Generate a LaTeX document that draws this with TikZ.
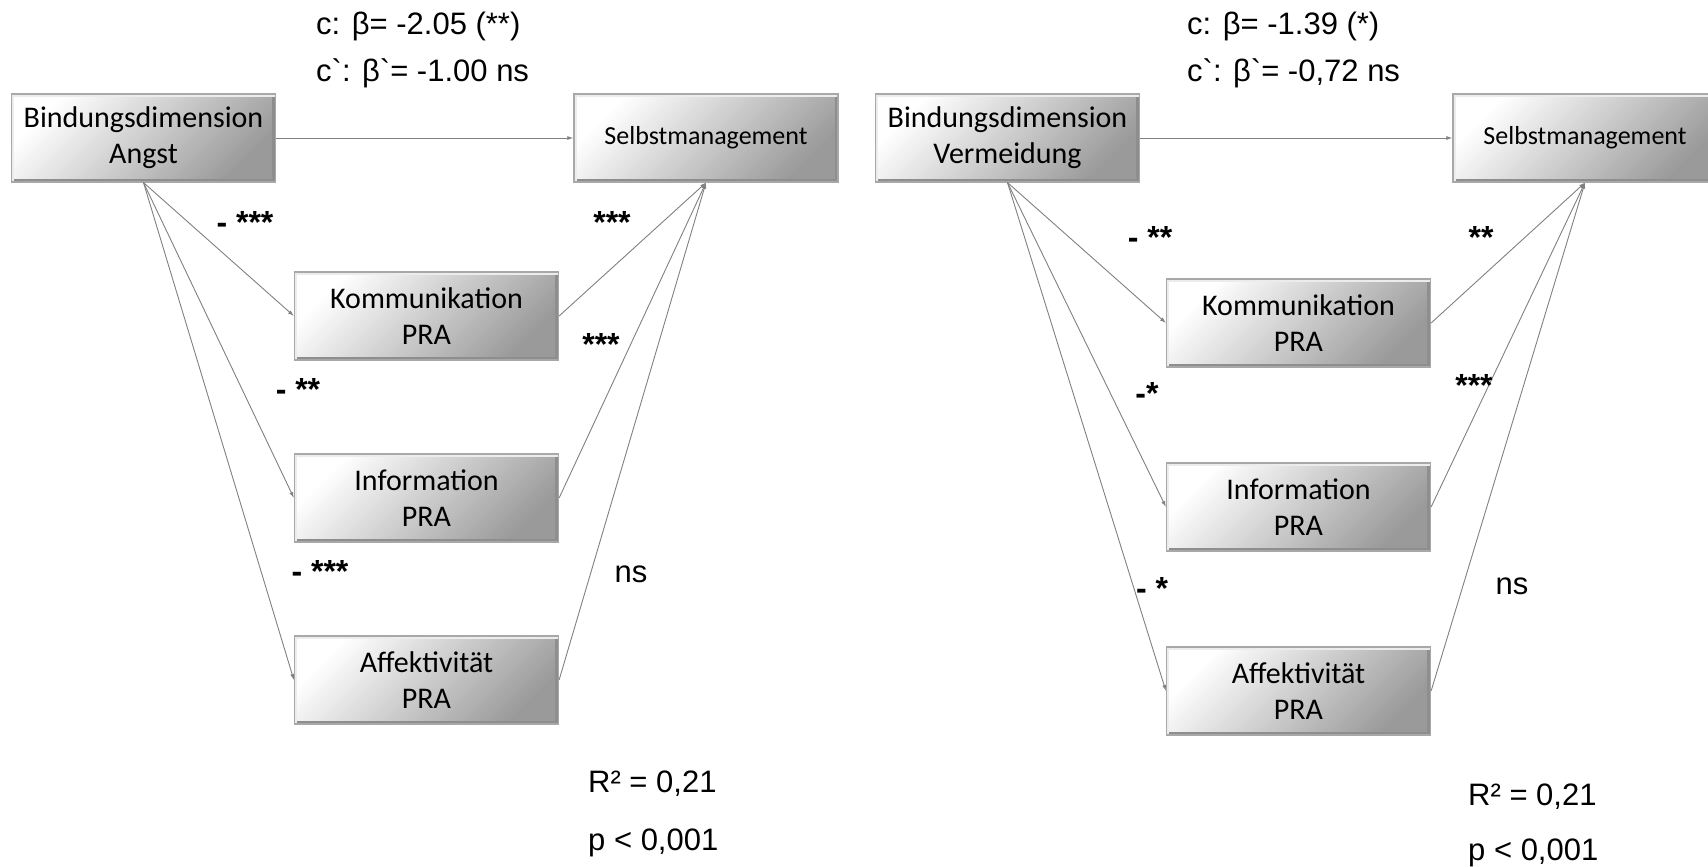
\documentclass[tikz,border=0pt]{standalone}
\usepackage{fontspec}
\usepackage{tikz}
\usetikzlibrary{positioning,arrows.meta}
\newfontfamily\boxfont{Carlito}
\newfontfamily\statfont{Liberation Sans}
\definecolor{linegray}{HTML}{808080}
\definecolor{boxmid}{HTML}{E2E2E2}
\definecolor{boxdark}{HTML}{9A9A9A}
\definecolor{boxedge}{HTML}{A8A8A8}
\definecolor{bevel}{HTML}{8E8E8E}

\begin{document}
\begin{tikzpicture}[x=1pt,y=-1pt,every node/.style={inner sep=0pt}]
   \tikzstyle{box}=[rectangle, draw=boxedge, line width=1.2pt, top color=white, middle color=boxmid, bottom color=boxdark, shading angle=45, minimum width=264pt, minimum height=88pt, align=center, font=\boxfont\fontsize{30}{36}\selectfont,
      path picture={\draw[bevel, line width=7pt] (path picture bounding box.south west) -- (path picture bounding box.south east) -- (path picture bounding box.north east);
                    \draw[white!85!gray, line width=5pt] (path picture bounding box.south west) -- (path picture bounding box.north west) -- (path picture bounding box.north east);}];
   \tikzstyle{smbox}=[box, font=\boxfont\fontsize{26}{31}\selectfont];
   \tikzstyle{st}=[anchor=west, font=\statfont\fontsize{31}{37}\selectfont];
   \tikzstyle{sig}=[font=\statfont\bfseries\fontsize{32}{38}\selectfont];
   \tikzstyle{l}=[draw=linegray, line width=0.9pt, -{Latex[length=6pt,width=4pt]}];
   \useasboundingbox (0,0) rectangle (1708,867);
   % Angst
   \node[box]   (ang) at (143.5,138) {Bindungsdimension\\Angst};
   \node[smbox] (sm)  at (706,138)   {Selbstmanagement};
   \node[box]   (kom) at (426.5,316) {Kommunikation\\PRA};
   \node[box]   (inf) at (426.5,498) {Information\\PRA};
   \node[box]   (aff) at (426.5,680) {Affektivität\\PRA};
   \draw[l] (ang) -- (sm);
   \draw[l] (ang.south) -- (kom.west);
   \draw[l] (ang.south) -- (inf.west);
   \draw[l] (ang.south) -- (aff.west);
   \draw[l] (kom.east) -- (sm.south);
   \draw[l] (inf.east) -- (sm.south);
   \draw[l] (aff.east) -- (sm.south);
   \node[st]  (c)   at (316,26)  {c: β= -2.05 (**)};
   \node[st]  (cs)  at (316,73)  {c`: β`= -1.00 ns};
   \node[sig] (a1)  at (245,222) {- ***};
   \node[sig] (b1)  at (612,222) {***};
   \node[sig] (a2)  at (298,389) {- **};
   \node[sig] (b2)  at (601,344) {***};
   \node[sig] (a3)  at (320,571) {- ***};
   \node[st,anchor=center] (b3) at (631,574) {ns};
   \node[st]  (r)   at (588,784) {R² = 0,21};
   \node[st]  (p)   at (588,843) {p < 0,001};
   % Vermeidung
   \node[box]   (verm) at (1007.5,138) {Bindungsdimension\\Vermeidung};
   \node[smbox] (sm2)  at (1585,138)   {Selbstmanagement};
   \node[box]   (kom2) at (1298.5,323) {Kommunikation\\PRA};
   \node[box]   (inf2) at (1298.5,507) {Information\\PRA};
   \node[box]   (aff2) at (1298.5,691) {Affektivität\\PRA};
   \draw[l] (verm) -- (sm2);
   \draw[l] (verm.south) -- (kom2.west);
   \draw[l] (verm.south) -- (inf2.west);
   \draw[l] (verm.south) -- (aff2.west);
   \draw[l] (kom2.east) -- (sm2.south);
   \draw[l] (inf2.east) -- (sm2.south);
   \draw[l] (aff2.east) -- (sm2.south);
   \node[st]  (c2)  at (1187,26)  {c: β= -1.39 (*)};
   \node[st]  (cs2) at (1187,73)  {c`: β`= -0,72 ns};
   \node[sig] (d1)  at (1150,237) {- **};
   \node[sig] (e1)  at (1481,237) {**};
   \node[sig] (d2)  at (1147,393) {-*};
   \node[sig] (e2)  at (1474,385) {***};
   \node[sig] (d3)  at (1152,588) {- *};
   \node[st,anchor=center] (e3) at (1512,586) {ns};
   \node[st]  (r2)  at (1468,797) {R² = 0,21};
   \node[st]  (p2)  at (1468,853) {p < 0,001};
\end{tikzpicture}
\end{document}
